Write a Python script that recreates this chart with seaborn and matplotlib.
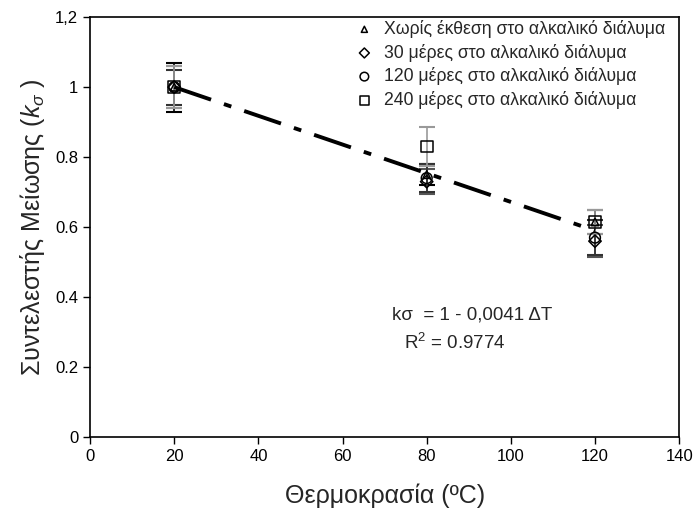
import matplotlib
matplotlib.use('Agg')
import matplotlib.pyplot as plt
import seaborn as sns
import pandas as pd

# Τιμές από το διάγραμμα
temps = [20, 80, 120]
series_names = ['Χωρίς έκθεση στο αλκαλικό διάλυμα',
                '30 μέρες στο αλκαλικό διάλυμα',
                '120 μέρες στο αλκαλικό διάλυμα',
                '240 μέρες στο αλκαλικό διάλυμα']
k_none = [1.0, 0.75, 0.615]
k_30 = [1.0, 0.73, 0.56]
k_120 = [1.0, 0.74, 0.57]
k_240 = [1.0, 0.83, 0.615]
err_none = [0.07, 0.03, 0.035]
err_30 = [0.06, 0.035, 0.045]
err_120 = [0.05, 0.04, 0.05]
err_240 = [0.06, 0.055, 0.035]
fit_x = [20, 120]
fit_y = [1.0, 0.59]
x_ticks = [0, 20, 40, 60, 80, 100, 120, 140]
y_ticks = [0, 0.2, 0.4, 0.6, 0.8, 1.0, 1.2]
y_labels = ['0', '0.2', '0.4', '0.6', '0.8', '1', '1,2']

sns.set_style('ticks')
plt.rcParams['font.family'] = ['Liberation Sans', 'DejaVu Sans']
plt.rcParams['mathtext.fontset'] = 'custom'
plt.rcParams['mathtext.it'] = 'Liberation Sans:italic'
plt.rcParams['mathtext.rm'] = 'Liberation Sans'

rows = []
for name, vals, errs in zip(series_names, [k_none, k_30, k_120, k_240],
                            [err_none, err_30, err_120, err_240]):
    for t, v, e in zip(temps, vals, errs):
        rows.append({'T': t, 'k': v, 'err': e, 'series': name})
df = pd.DataFrame(rows)

fig = plt.figure(figsize=(6.93, 5.18), dpi=100)
ax = fig.add_axes([0.130, 0.156, 0.850, 0.811])

# error bars
err_colors = ['black', '#555555', '#333333', '#999999']
for name, c in zip(series_names, err_colors):
    d = df[df['series'] == name]
    ax.errorbar(d['T'], d['k'], yerr=d['err'], fmt='none', ecolor=c,
                elinewidth=1.2, capsize=6, capthick=1.5, zorder=2)

# regression line
sns.lineplot(x=fit_x, y=fit_y, ax=ax, color='black', linewidth=2.8,
             linestyle=(0, (10, 3.5, 2, 3.5)), zorder=3, legend=False)

markers = {series_names[0]: '^', series_names[1]: 'D',
           series_names[2]: 'o', series_names[3]: 's'}
sizes = {series_names[0]: 30, series_names[1]: 40,
         series_names[2]: 60, series_names[3]: 70}
for name in series_names:
    d = df[df['series'] == name]
    sns.scatterplot(data=d, x='T', y='k', ax=ax, marker=markers[name],
                    s=sizes[name], facecolor='none', edgecolor='black',
                    linewidth=1.1, label=name, zorder=4)

ax.set_xlim(0, 140)
ax.set_ylim(0, 1.2)
ax.set_xticks(x_ticks)
ax.set_yticks(y_ticks)
ax.set_yticklabels(y_labels)
ax.tick_params(direction='out', length=5, width=1, labelsize=12, colors='black')
for sp in ax.spines.values():
    sp.set_linewidth(1.2)
    sp.set_color('black')

ax.set_xlabel('Θερμοκρασία (ºC)', fontsize=18, labelpad=14)
ax.set_ylabel('Συντελεστής Μείωσης ($k_\\sigma$ )', fontsize=18, labelpad=6)

ax.text(71.8, 0.35, 'kσ  = 1 - 0,0041 ΔT', fontsize=13.5, va='center')
ax.text(74.5, 0.27, 'R$^2$ = 0.9774', fontsize=13.5, va='center')

leg = ax.legend(loc='upper right', bbox_to_anchor=(0.988, 1.01),
                frameon=False, fontsize=12.7,
                handlelength=1.0, handletextpad=0.6, labelspacing=0.32,
                borderaxespad=0.0, markerscale=0.8)

fig.savefig('out.png', dpi=100)
